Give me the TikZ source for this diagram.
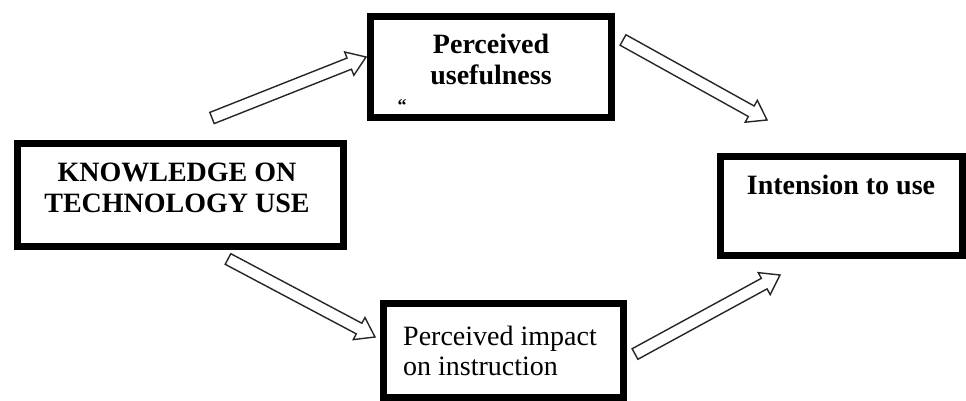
\documentclass[tikz,border=0pt]{standalone}
\usepackage{fontspec}
\setmainfont{Liberation Serif}
\usetikzlibrary{calc}

\tikzset{
  box/.style={draw=black, line width=7pt, rectangle, inner sep=0pt},
  boxtext/.style={font=\fontsize{28}{31}\selectfont\bfseries, align=center, anchor=base, inner sep=0pt},
  plaintext/.style={font=\fontsize{28}{30}\selectfont, align=left, anchor=base west, inner sep=0pt},
  hollowarrow/.style={draw=black!85, line width=1.4pt, fill=white, line join=miter},
}

% open block arrow from #1 (tail) to #2 (tip)
\newcommand{\blockarrow}[2]{%
  \coordinate (hb) at ($(#2)!18pt!(#1)$);
  \draw[hollowarrow] ($(#1)!6pt!90:(#2)$) -- ($(hb)!6pt!90:(#2)$) -- ($(hb)!12.5pt!90:(#2)$) -- (#2)
     -- ($(hb)!12.5pt!-90:(#2)$) -- ($(hb)!6pt!-90:(#2)$) -- ($(#1)!6pt!-90:(#2)$) -- cycle;
}

\begin{document}
\begin{tikzpicture}[x=1pt, y=-1pt]

\useasboundingbox (0,0) rectangle (966,401);


 \node (useful) at (491,67) [box, minimum width=241pt, minimum height=101pt]{};
 \node (know) at (180.5,195) [box, minimum width=326pt, minimum height=103pt]{};
 \node (intent) at (841.5,206) [box, minimum width=242pt, minimum height=99pt]{};
 \node (impact) at (503.5,350.5) [box, minimum width=240pt, minimum height=94pt]{};


 % texts (base = last line)
 \node (usefultext) at (491,85) [boxtext] {Perceived\\usefulness};
 \node (mark) at (402,112) [font=\fontsize{18}{18}\selectfont\bfseries, anchor=base, inner sep=0pt] {``};
 \node (knowtext) at (177,212) [boxtext] {KNOWLEDGE ON\\TECHNOLOGY USE};
 \node (intenttext) at (841,194) [boxtext] {Intension to use};
 \node (impacttext) at (403,375) [plaintext] {Perceived impact\\on instruction};


 % arrow ends
 \coordinate (a1s) at (212,118);
 \coordinate (a1e) at (366,57);
 \coordinate (a2s) at (623,40);
 \coordinate (a2e) at (767,120);
 \coordinate (a3s) at (228,259);
 \coordinate (a3e) at (375,337);
 \coordinate (a4s) at (635,354);
 \coordinate (a4e) at (780,275);

 \blockarrow{a1s}{a1e}
 \blockarrow{a2s}{a2e}
 \blockarrow{a3s}{a3e}
 \blockarrow{a4s}{a4e}

\end{tikzpicture}
\end{document}
